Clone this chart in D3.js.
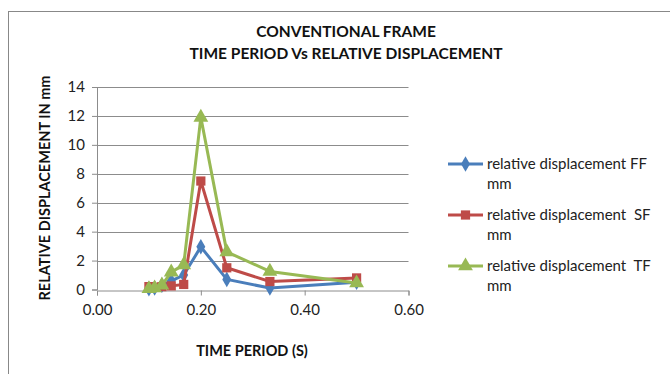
<!DOCTYPE html>
<html><head><meta charset="utf-8">
<script src="https://d3js.org/d3.v7.min.js"></script>
<style>body{margin:0;background:#fff}svg{display:block}</style>
</head><body>
<script>
const timePeriods = [0.10, 0.111, 0.125, 0.143, 0.167, 0.20, 0.25, 0.333, 0.50];
const ffValues = [0.05, 0.1, 0.3, 0.6, 1.0, 2.95, 0.7, 0.1, 0.5];
const sfValues = [0.2, 0.15, 0.2, 0.25, 0.35, 7.5, 1.5, 0.55, 0.8];
const tfValues = [0.05, 0.1, 0.3, 1.2, 1.7, 11.9, 2.6, 1.25, 0.45];
const seriesNames = ["relative displacement FF", "relative displacement  SF", "relative displacement  TF"];
const xTicks = [0, 0.2, 0.4, 0.6];
const yTicks = [0, 2, 4, 6, 8, 10, 12, 14];

const W = 670, H = 374;
const font = "Lato, 'Open Sans', sans-serif";
const svg = d3.select("body").append("svg").attr("width", W).attr("height", H);
svg.append("rect").attr("x", 8.5).attr("y", 11.5).attr("width", 680).attr("height", 380)
  .attr("fill", "#fff").attr("stroke", "#888").attr("stroke-width", 1);

const x = d3.scaleLinear().domain([0, 0.6]).range([97, 408.5]);
const y = d3.scaleLinear().domain([0, 14]).range([289.5, 87]);

// gridlines
svg.append("g").selectAll("line").data(yTicks.filter(d => d > 0)).join("line")
  .attr("x1", x(0)).attr("x2", x(0.6)).attr("y1", d => Math.round(y(d)) + 0.5).attr("y2", d => Math.round(y(d)) + 0.5)
  .attr("stroke", "#8c8c8c").attr("stroke-width", 1);

const yAxis = svg.append("g").attr("transform", `translate(${x(0)},0)`)
  .call(d3.axisLeft(y).tickValues(yTicks).tickSize(5).tickFormat(d3.format("d")));
const xAxis = svg.append("g").attr("transform", `translate(0,${Math.round(y(0)) + 0.5})`)
  .call(d3.axisBottom(x).tickValues(xTicks).tickSize(5).tickFormat(d3.format(".2f")));
[yAxis, xAxis].forEach(a => {
  a.select(".domain").attr("stroke", "#8c8c8c");
  a.selectAll(".tick line").attr("stroke", "#8c8c8c");
  a.selectAll("text").attr("font-family", font).attr("font-size", 15).attr("fill", "#222");
});
yAxis.selectAll("text").attr("x", -12);
xAxis.selectAll("text").attr("y", 14);

const colors = ["#4A7EBB", "#BE4B48", "#98B954"];
const data = [ffValues, sfValues, tfValues];
const symbols = [d3.symbolDiamond, d3.symbolSquare, d3.symbolTriangle];
const sizes = [70, 85, 95];
const line = d3.line().x((d, i) => x(timePeriods[i])).y(d => y(d));

data.forEach((vals, s) => {
  svg.append("path").datum(vals).attr("d", line).attr("fill", "none")
    .attr("stroke", colors[s]).attr("stroke-width", 3).attr("stroke-linejoin", "round");
  svg.append("g").selectAll("path").data(vals).join("path")
    .attr("transform", (d, i) => `translate(${x(timePeriods[i])},${y(d)})`)
    .attr("d", d3.symbol().type(symbols[s]).size(sizes[s]))
    .attr("fill", colors[s]);
});

// title
svg.append("text").attr("x", 346).attr("y", 37).attr("text-anchor", "middle")
  .attr("font-family", font).attr("font-weight", "bold").attr("font-size", 15.5).attr("fill", "#111")
  .text("CONVENTIONAL FRAME");
svg.append("text").attr("x", 346).attr("y", 59).attr("text-anchor", "middle")
  .attr("font-family", font).attr("font-weight", "bold").attr("font-size", 15.5).attr("fill", "#111")
  .text("TIME PERIOD Vs RELATIVE DISPLACEMENT");

svg.append("text").attr("transform", "translate(50,188) rotate(-90)").attr("text-anchor", "middle")
  .attr("font-family", font).attr("font-weight", "bold").attr("font-size", 14.5).attr("fill", "#111")
  .text("RELATIVE DISPLACEMENT IN mm");
svg.append("text").attr("x", 252).attr("y", 356).attr("text-anchor", "middle")
  .attr("font-family", font).attr("font-weight", "bold").attr("font-size", 14.5).attr("fill", "#111")
  .text("TIME PERIOD (S)");

// legend
const lg = svg.append("g");
seriesNames.forEach((name, s) => {
  const ly = 164 + s * 51;
  lg.append("line").attr("x1", 448).attr("x2", 483).attr("y1", ly).attr("y2", ly)
    .attr("stroke", colors[s]).attr("stroke-width", 3);
  lg.append("path").attr("transform", `translate(465.5,${ly})`)
    .attr("d", d3.symbol().type(symbols[s]).size(sizes[s])).attr("fill", colors[s]);
  const t = lg.append("text").attr("font-family", font).attr("font-size", 15).attr("fill", "#222")
    .attr("xml:space", "preserve").style("white-space", "pre");
  t.append("tspan").attr("x", 487).attr("y", ly + 5).text(name);
  t.append("tspan").attr("x", 487).attr("y", ly + 25).text("mm");
});
</script>
</body></html>
